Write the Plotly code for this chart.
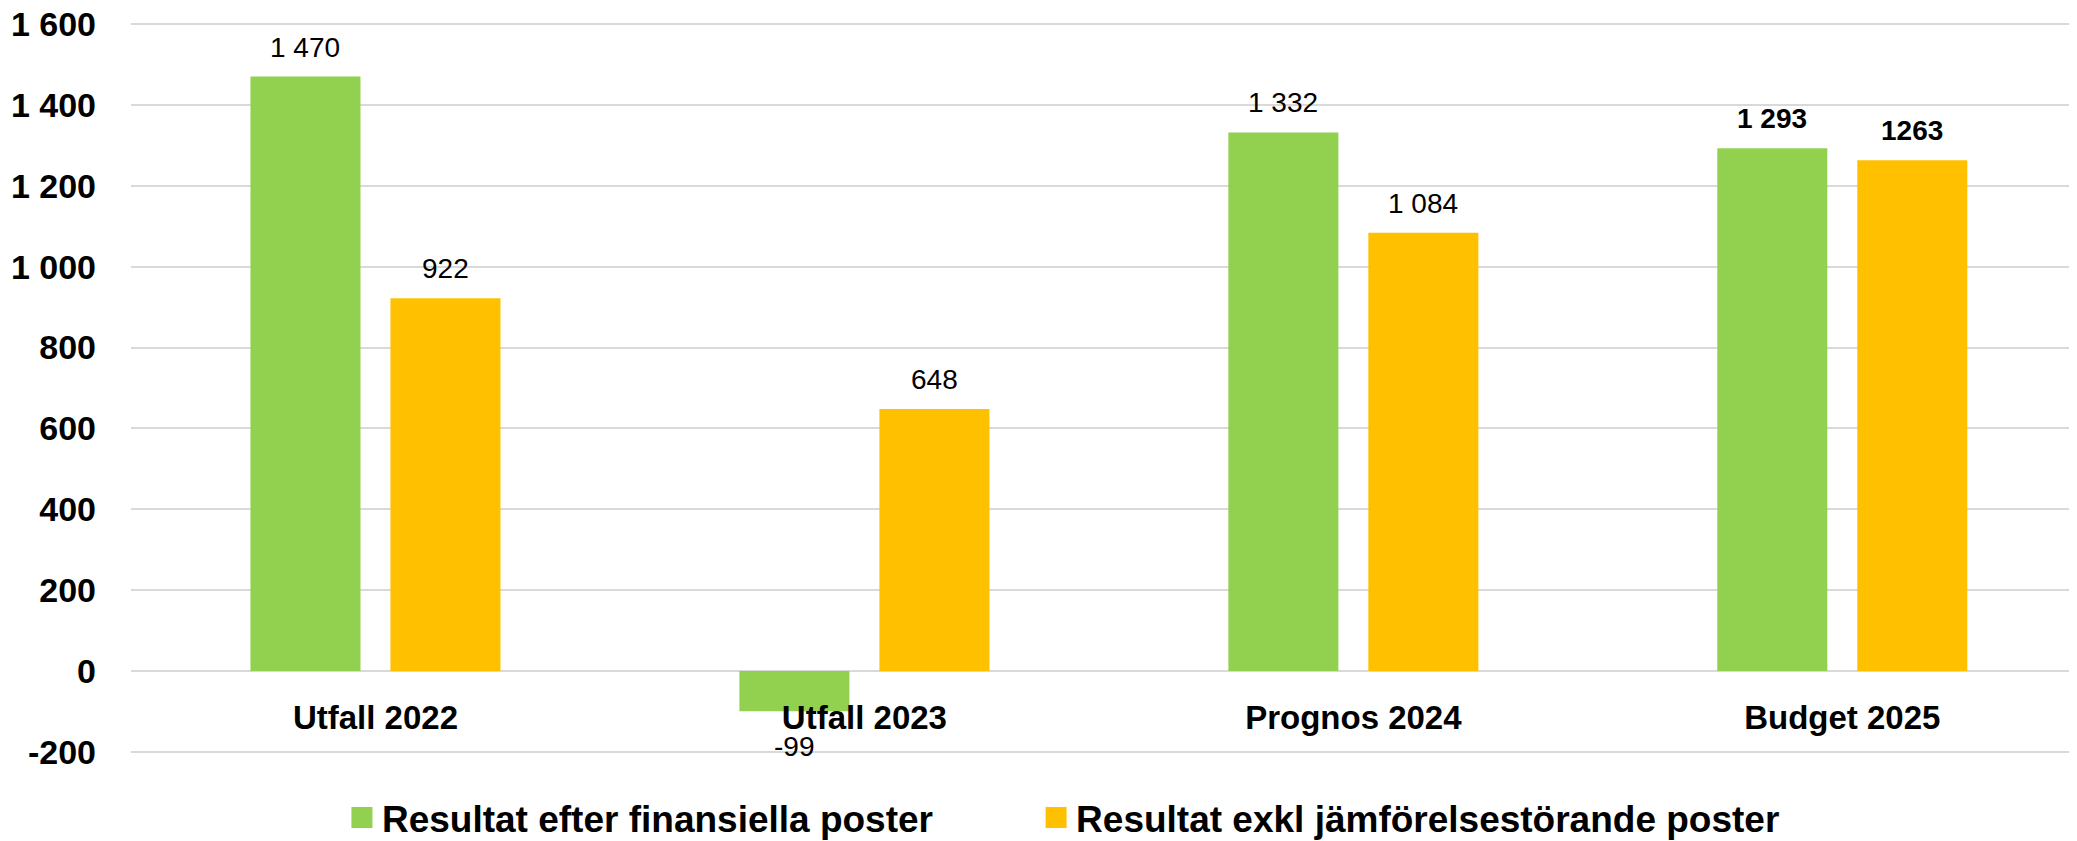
import plotly.graph_objects as go

categories = ["Utfall 2022", "Utfall 2023", "Prognos 2024", "Budget 2025"]
series_names = ["Resultat efter finansiella poster", "Resultat exkl jämförelsestörande poster"]
values_green = [1470, -99, 1332, 1293]
values_orange = [922, 648, 1084, 1263]
labels_green = ["1 470", "-99", "1 332", "1 293"]
labels_orange = ["922", "648", "1 084", "1263"]
labels_bold = [False, False, False, True]
ytick_vals = [-200, 0, 200, 400, 600, 800, 1000, 1200, 1400, 1600]
ytick_text = ["-200", "0", "200", "400", "600", "800", "1 000", "1 200", "1 400", "1 600"]

GREEN = "#92D050"
ORANGE = "#FFC000"
GRID = "#D9D9D9"
FONT = "Liberation Sans, Arial, sans-serif"

BARGAP = 0.4274
BARGROUPGAP = 0.214
YMIN, YMAX = -205, 1605  # small pad so the edge gridlines are drawn

fig = go.Figure()
for name, vals, color in [(series_names[0], values_green, GREEN),
                          (series_names[1], values_orange, ORANGE)]:
    fig.add_trace(go.Bar(x=categories, y=vals, marker=dict(color=color, line=dict(width=0)),
                         name=name, showlegend=False))

# legend entries (larger square swatches), one legend per entry for exact spacing
for j, (name, color) in enumerate([(series_names[0], GREEN), (series_names[1], ORANGE)]):
    fig.add_trace(go.Scatter(x=[None], y=[None], mode="markers", name=name,
                             legend="legend" if j == 0 else "legend2",
                             marker=dict(symbol="square", size=16, color=color,
                                         line=dict(color=color, width=5))))

# data labels
slot = (1 - BARGAP) / 2
annotations = []
for k, (vals, labs) in enumerate([(values_green, labels_green), (values_orange, labels_orange)]):
    off = (-slot / 2) if k == 0 else (slot / 2)
    for i, (v, t) in enumerate(zip(vals, labs)):
        annotations.append(dict(
            x=i + off, y=v, xref="x", yref="y", text=t, showarrow=False,
            yanchor="bottom" if v >= 0 else "top",
            yshift=12 if v >= 0 else -18,
            font=dict(family=FONT, size=28, color="#000000",
                      weight="bold" if labels_bold[i] else "normal"),
        ))

legend_font = dict(family=FONT, size=37, color="#000000", weight="bold")

# page body has an 8px default margin: figure is offset to match the 2077x841 window
fig.update_layout(
    width=2069, height=833,
    margin=dict(l=123, r=0, t=14, b=87, autoexpand=False),
    paper_bgcolor="white", plot_bgcolor="white",
    barmode="group", bargap=BARGAP, bargroupgap=BARGROUPGAP,
    font=dict(family=FONT, color="#000000"),
    annotations=annotations,
    xaxis=dict(type="category", categoryorder="array", categoryarray=categories,
               range=[-0.5, 3.48], anchor="free", position=(0 - YMIN) / (YMAX - YMIN),
               showline=False, showgrid=False, zeroline=False, ticks="",
               ticklabelstandoff=24,
               tickfont=dict(family=FONT, size=33, color="#000000", weight="bold")),
    yaxis=dict(range=[YMIN, YMAX], tickvals=ytick_vals, ticktext=ytick_text,
               showgrid=True, gridcolor=GRID, gridwidth=2,
               zeroline=True, zerolinecolor=GRID, zerolinewidth=2,
               showline=False, ticks="", ticklabelstandoff=34,
               ticklabeloverflow="allow",
               tickfont=dict(family=FONT, size=34, color="#000000", weight="bold")),
    legend=dict(orientation="h", x=0.1084, xanchor="left", y=-0.0874, yanchor="middle",
                font=legend_font, bgcolor="rgba(0,0,0,0)"),
    legend2=dict(orientation="h", x=0.4651, xanchor="left", y=-0.0874, yanchor="middle",
                 font=legend_font, bgcolor="rgba(0,0,0,0)"),
)

fig.write_html("out.html")
